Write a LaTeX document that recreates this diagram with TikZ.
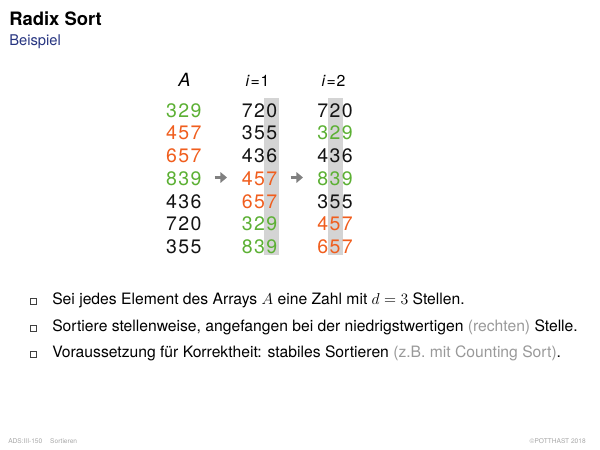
\documentclass[tikz,border=0pt]{standalone}
\usepackage[no-math]{fontspec}
\setmainfont{TeX Gyre Heros}
\usepackage{amsmath}
\usetikzlibrary{arrows.meta}

\definecolor{grn}{RGB}{92,176,52}
\definecolor{org}{RGB}{240,94,30}
\definecolor{blk}{RGB}{20,20,20}
\definecolor{titleblue}{RGB}{38,52,128}

\tikzset{
  digit/.style={anchor=base, inner sep=0pt, font=\fontsize{14.8}{16}\selectfont},
  bartext/.style={anchor=base west, inner sep=0pt, font=\fontsize{11.9}{14}\selectfont},
  passarrow/.style={draw=black!50, line width=2.2pt, -{Triangle[length=5pt,width=8pt]}},
  footer/.style={anchor=base west, inner sep=0pt, text=black!35, font=\fontsize{5}{6}\selectfont}
}

\newcommand{\bulletsq}[2]{%
  \fill[black!70] (30.8,#2+0.8) rectangle (36.8,#2+6.8);
  \filldraw[fill=white, draw=black!75, line width=0.4pt] (30,#2) rectangle (36,#2+6);
  \coordinate (#1) at (33,#2+3);}

\begin{document}
\begin{tikzpicture}[x=0.02667cm,y=-0.02667cm]
\useasboundingbox (0,0) rectangle (600,450);

% title
\node[anchor=base west, inner sep=0pt, font=\fontsize{14}{16}\selectfont\bfseries] (title) at (9,25) {Radix Sort};
\node[anchor=base west, inner sep=0pt, text=titleblue, font=\fontsize{11.2}{13}\selectfont] (subtitle) at (9,45) {Beispiel};

% sorted digit columns
\fill[black!17] (264.3,98) rectangle (279.3,255);
\fill[black!17] (327.5,98) rectangle (342.5,255);

% headers
\node[anchor=base, inner sep=0pt, font=\fontsize{13.8}{15}\selectfont\itshape] (hA) at (184.5,86) {A};
\node[anchor=base, inner sep=0pt, font=\fontsize{12}{14}\selectfont] (h1) at (257.5,86) {\textit{i}\kern0.05em=\kern0.05em1};
\node[anchor=base, inner sep=0pt, font=\fontsize{12}{14}\selectfont] (h2) at (333.5,86) {\textit{i}\kern0.05em=\kern0.05em2};

% column A
\foreach \r/\a/\b/\c/\col in {1/3/2/9/grn, 2/4/5/7/org, 3/6/5/7/org, 4/8/3/9/grn, 5/4/3/6/blk, 6/7/2/0/blk, 7/3/5/5/blk}{
  \node[digit, text=\col] (a\r1) at (171.5,117+22.75*\r-22.75) {\a};
  \node[digit, text=\col] (a\r2) at (183.8,117+22.75*\r-22.75) {\b};
  \node[digit, text=\col] (a\r3) at (196.1,117+22.75*\r-22.75) {\c};
}
% column i=1
\foreach \r/\a/\b/\c/\col in {1/7/2/0/blk, 2/3/5/5/blk, 3/4/3/6/blk, 4/4/5/7/org, 5/6/5/7/org, 6/3/2/9/grn, 7/8/3/9/grn}{
  \node[digit, text=\col] (b\r1) at (247.2,117+22.75*\r-22.75) {\a};
  \node[digit, text=\col] (b\r2) at (259.5,117+22.75*\r-22.75) {\b};
  \node[digit, text=\col] (b\r3) at (271.8,117+22.75*\r-22.75) {\c};
}
% column i=2
\foreach \r/\a/\b/\c/\col in {1/7/2/0/blk, 2/3/2/9/grn, 3/4/3/6/blk, 4/8/3/9/grn, 5/3/5/5/blk, 6/4/5/7/org, 7/6/5/7/org}{
  \node[digit, text=\col] (c\r1) at (322.7,117+22.75*\r-22.75) {\a};
  \node[digit, text=\col] (c\r2) at (335,117+22.75*\r-22.75) {\b};
  \node[digit, text=\col] (c\r3) at (347.3,117+22.75*\r-22.75) {\c};
}

% arrows between passes
\coordinate (p1s) at (214.5,177.5);
\coordinate (p1e) at (227,177.5);
\coordinate (p2s) at (290.5,177.5);
\coordinate (p2e) at (303,177.5);
\draw[passarrow] (p1s) -- (p1e);
\draw[passarrow] (p2s) -- (p2e);

% bullets
\bulletsq{b1}{298.5}
\bulletsq{b2}{325}
\bulletsq{b3}{351.5}
\node[bartext] (t1) at (52,304.5) {Sei jedes Element des Arrays $A$ eine Zahl mit $d=3$ Stellen.};
\node[bartext] (t2) at (52,331) {Sortiere stellenweise, angefangen bei der niedrigstwertigen \textcolor{black!40}{(rechten)} Stelle.};
\node[bartext] (t3) at (52,357.5) {Voraussetzung für Korrektheit: stabiles Sortieren \textcolor{black!40}{(z.B. mit Counting Sort)}.};

% footer
\node[footer] (f1) at (8,443.5) {ADS:III-150\hspace{1.2em}Sortieren};
\node[footer, anchor=base east] (f2) at (586,443.5) {\textcopyright POTTHAST 2018};
\end{tikzpicture}
\end{document}
